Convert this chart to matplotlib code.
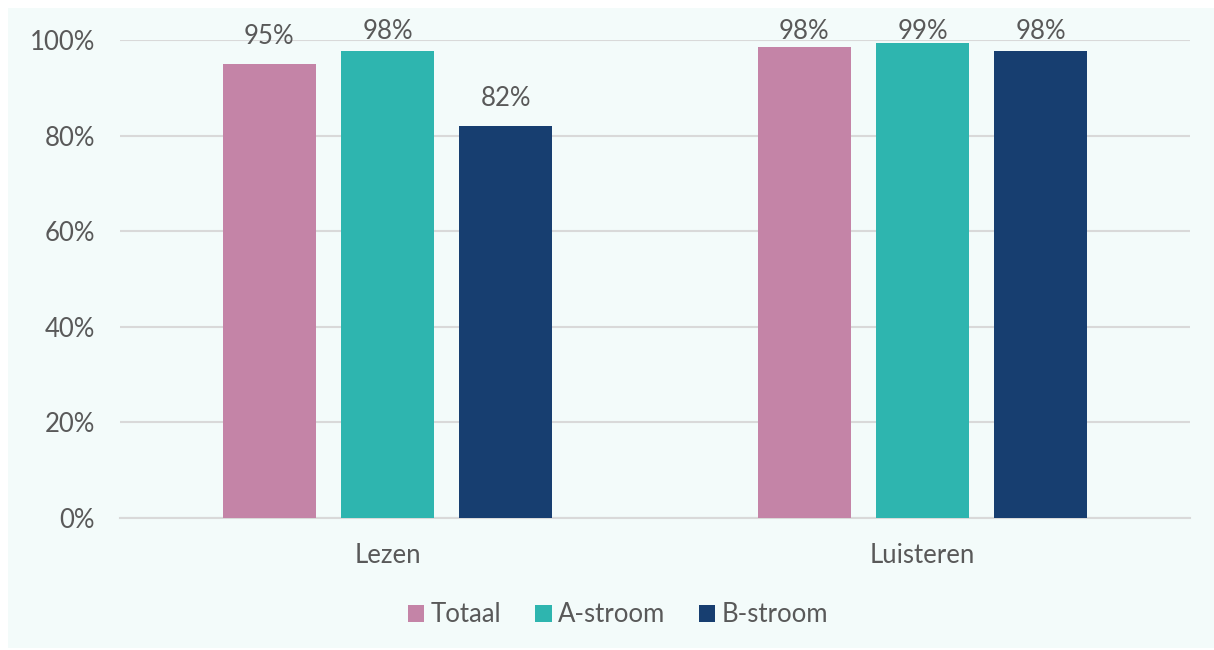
import matplotlib
matplotlib.use("Agg")
import matplotlib.pyplot as plt
import numpy as np
from matplotlib.patches import Rectangle

categories = ["Lezen", "Luisteren"]
series_names = ["Totaal", "A-stroom", "B-stroom"]
values = {
    "Totaal": [95.0, 98.5],
    "A-stroom": [97.7, 99.4],
    "B-stroom": [82.0, 97.7],
}
labels = {
    "Totaal": ["95%", "98%"],
    "A-stroom": ["98%", "99%"],
    "B-stroom": ["82%", "98%"],
}
colors = ["#C484A7", "#2EB5AF", "#173E70"]
yticks = [0, 20, 40, 60, 80, 100]

plt.rcParams['font.family'] = ['Lato', 'DejaVu Sans']
W, H = 1214, 650
FS = 18.5
fig = plt.figure(figsize=(W / 100, H / 100), dpi=100)
fig.patch.set_facecolor("white")
fig.patches.append(Rectangle((8 / W, 2 / H), 1 - 8 / W, 1 - 10 / H,
                             transform=fig.transFigure, facecolor="#F3FBFA",
                             edgecolor="none", zorder=-10))

ax = fig.add_axes([120 / W, 1 - 518 / H, (1190 - 120) / W, (518 - 40) / H])
ax.set_facecolor("none")

x = np.arange(len(categories))
bw = 0.174
step = bw + 0.047
gray = "#595959"
for i, name in enumerate(series_names):
    xs = x + (i - 1) * step
    ax.bar(xs, values[name], width=bw, color=colors[i], label=name, zorder=3)
    for xi, v, lab in zip(xs, values[name], labels[name]):
        ax.text(xi, min(v + 5.7, 101.7), lab, ha="center", va="center",
                fontsize=FS, color=gray, zorder=4, clip_on=False)

ax.set_xlim(-0.5, 1.5)
ax.set_ylim(0, 100)
ax.set_yticks(yticks)
ax.set_yticklabels([f"{t}%" for t in yticks], fontsize=FS, color=gray)
ax.set_xticks(x)
ax.set_xticklabels(categories, fontsize=FS, color=gray)
ax.tick_params(axis="both", length=0)
ax.tick_params(axis="y", pad=18)
ax.tick_params(axis="x", pad=18)
ax.grid(axis="y", color="#D9D9D9", linewidth=1.5, zorder=0)
for s in ["top", "right", "left"]:
    ax.spines[s].set_visible(False)
ax.spines["bottom"].set_color("#D9D9D9")
ax.spines["bottom"].set_linewidth(1.5)

leg = fig.legend(loc="center", bbox_to_anchor=(618 / W, 1 - 615 / H), ncol=3,
                 frameon=False, fontsize=FS, handlelength=0.65, handleheight=0.65,
                 handletextpad=0.25, columnspacing=1.3)
for t in leg.get_texts():
    t.set_color(gray)

fig.savefig("out.png", dpi=100)
